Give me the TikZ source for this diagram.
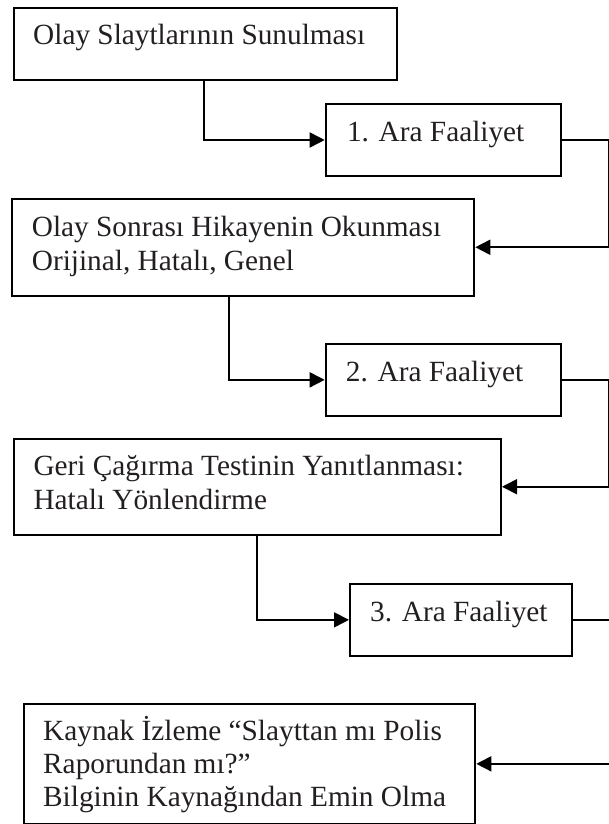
\documentclass[tikz,border=0pt]{standalone}
\usepackage{fontspec}
\setmainfont{Liberation Serif}
\usetikzlibrary{arrows.meta}
\definecolor{ink}{HTML}{231F20}
\begin{document}
\begin{tikzpicture}[x=1pt,y=-1pt,
  bx/.style={draw=black,line width=2pt,inner sep=0pt,anchor=north west,fill=none},
  txt/.style={anchor=base west,inner sep=0pt,text=ink,font=\fontsize{29.3}{34}\selectfont},
  conn/.style={draw=black,line width=1.7pt,-{Triangle[length=15pt,width=15pt]}}]
\useasboundingbox (0,0) rectangle (609,824);
\clip (0,0) rectangle (609,824);
\fill[white] (0,0) rectangle (609,824);
% boxes
\node[bx,minimum width=383.2pt,minimum height=72.3pt] (b1) at (12.8,6.7) {};
\node[bx,minimum width=235.3pt,minimum height=72pt] (b2) at (324.7,103) {};
\node[bx,minimum width=462.3pt,minimum height=97.5pt] (b3) at (11,197.5) {};
\node[bx,minimum width=235.3pt,minimum height=72.3pt] (b4) at (324.7,342.7) {};
\node[bx,minimum width=487.3pt,minimum height=96.5pt] (b5) at (12.7,437.5) {};
\node[bx,minimum width=221.7pt,minimum height=72.3pt] (b6) at (349,582.7) {};
\node[bx,minimum width=451.6pt,minimum height=120.3pt] (b7) at (22.7,702.7) {};
% texts
\node[txt] (t1) at (33,45) {Olay Slaytlarının Sunulması};
\node[txt] (t2) at (346.8,141.5) {1. Ara Faaliyet};
\node[txt] (t3a) at (31.7,236) {Olay Sonrası Hikayenin Okunması};
\node[txt] (t3b) at (31.7,270) {Orijinal, Hatalı, Genel};
\node[txt] (t4) at (345.7,381) {2. Ara Faaliyet};
\node[txt] (t5a) at (33.3,475) {Geri Çağırma Testinin Yanıtlanması:};
\node[txt] (t5b) at (33.3,509) {Hatalı Yönlendirme};
\node[txt] (t6) at (370,621) {3. Ara Faaliyet};
\node[txt] (t7a) at (43,740) {Kaynak İzleme “Slayttan mı Polis};
\node[txt] (t7b) at (43,773) {Raporundan mı?”};
\node[txt] (t7c) at (43,806.5) {Bilginin Kaynağından Emin Olma};
% connectors
\draw[conn] (b1.south west) ++(191.5,0) |- (b2.west);
\draw[conn] (b2.east) -- ++(47.3,0) |- (b3.east);
\draw[conn] (b3.south west) ++(218.3,0) |- (b4.west);
\draw[conn] (b4.east) -- ++(47.3,0) |- (b5.east);
\draw[conn] (b5.south west) ++(244,0) |- (b6.west);
\draw[conn] (b6.east) -- ++(46,0) |- (b7.east);
\end{tikzpicture}
\end{document}
